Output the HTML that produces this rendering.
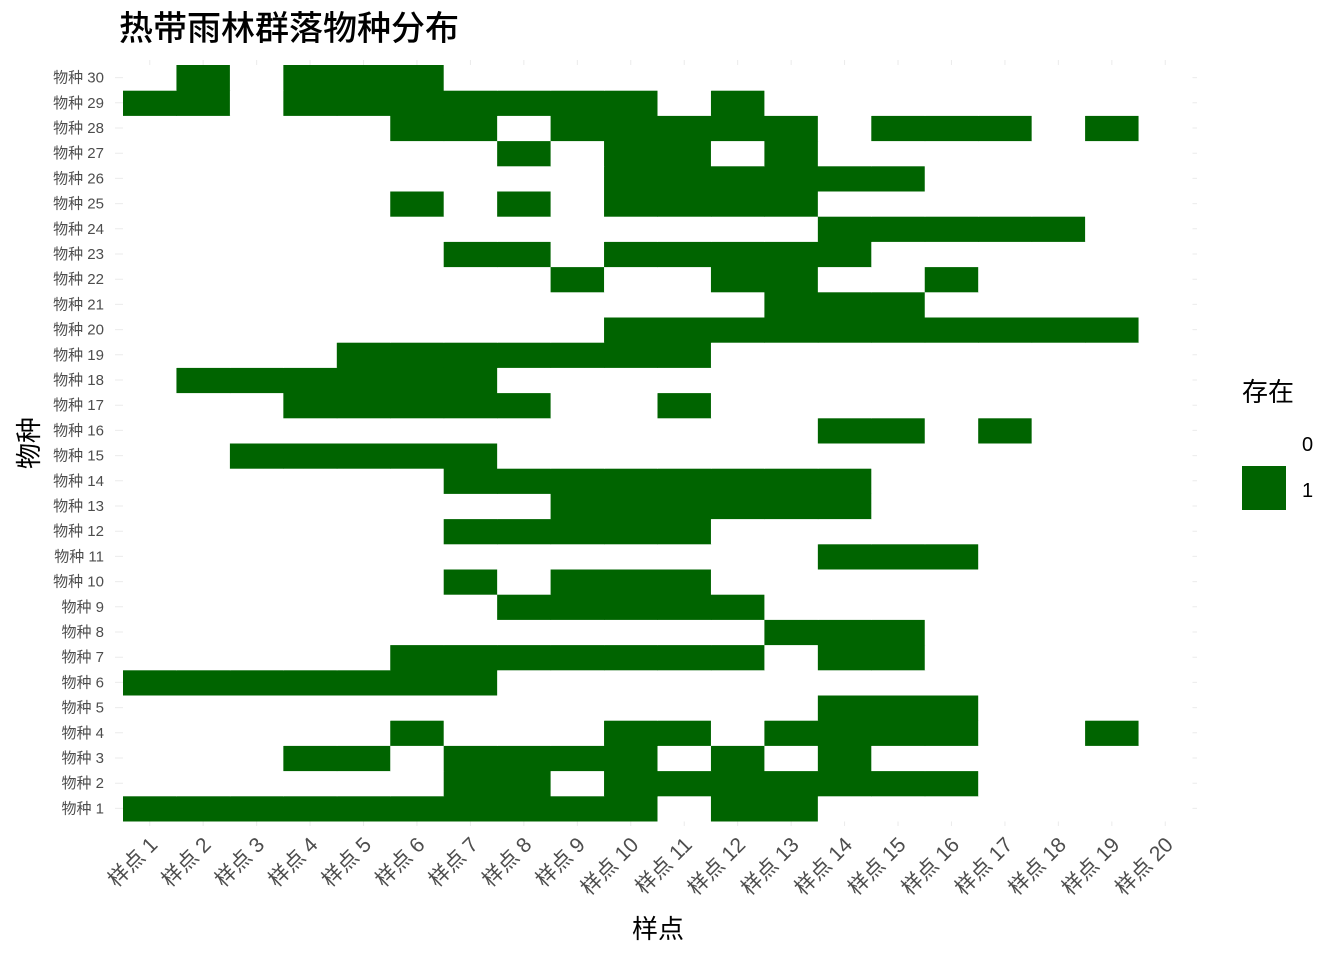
<!DOCTYPE html>
<html><head><meta charset="utf-8">
<style>
html,body{margin:0;padding:0;background:#fff;}
svg{display:block;font-family:"Liberation Sans","Noto Sans CJK SC",sans-serif;}
</style></head>
<body>
<svg id="chart" width="1344" height="960">
<text x="119" y="40" font-size="34" font-weight="500" fill="#000">热带雨林群落物种分布</text>
<g id="grid"></g>
<g id="tiles"></g>
<g id="ylabels"></g>
<g id="xlabels"></g>
<text x="658" y="938" font-size="26" text-anchor="middle" fill="#000">样点</text>
<text transform="translate(38,443) rotate(-90)" font-size="26" text-anchor="middle" fill="#000">物种</text>
<g>
<text x="1242" y="401" font-size="26" fill="#000">存在</text>
<rect x="1242" y="421" width="44" height="44" fill="#fff"/>
<text x="1302" y="451" font-size="20" fill="#000">0</text>
<rect x="1242" y="466" width="44" height="44" fill="#006400"/>
<text x="1302" y="497" font-size="20" fill="#000">1</text>
</g>
</svg>
<script>
const sites = Array.from({length:20},(_,i)=>'样点 '+(i+1));
const species = Array.from({length:30},(_,i)=>'物种 '+(i+1));
const sp1=[1,2,3,4,5,6,7,8,9,10,12,13];
const sp2=[7,8,10,11,12,13,14,15,16];
const sp3=[4,5,7,8,9,10,12,14];
const sp4=[6,10,11,13,14,15,16,19];
const sp5=[14,15,16];
const sp6=[1,2,3,4,5,6,7];
const sp7=[6,7,8,9,10,11,12,14,15];
const sp8=[13,14,15];
const sp9=[8,9,10,11,12];
const sp10=[7,9,10,11];
const sp11=[14,15,16];
const sp12=[7,8,9,10,11];
const sp13=[9,10,11,12,13,14];
const sp14=[7,8,9,10,11,12,13,14];
const sp15=[3,4,5,6,7];
const sp16=[14,15,17];
const sp17=[4,5,6,7,8,11];
const sp18=[2,3,4,5,6,7];
const sp19=[5,6,7,8,9,10,11];
const sp20=[10,11,12,13,14,15,16,17,18,19];
const sp21=[13,14,15];
const sp22=[9,12,13,16];
const sp23=[7,8,10,11,12,13,14];
const sp24=[14,15,16,17,18];
const sp25=[6,8,10,11,12,13];
const sp26=[10,11,12,13,14,15];
const sp27=[8,10,11,13];
const sp28=[6,7,9,10,11,12,13,15,16,17,19];
const sp29=[1,2,4,5,6,7,8,9,10,12];
const sp30=[2,4,5,6];
const presence=[sp1,sp2,sp3,sp4,sp5,sp6,sp7,sp8,sp9,sp10,sp11,sp12,sp13,sp14,sp15,sp16,sp17,sp18,sp19,sp20,sp21,sp22,sp23,sp24,sp25,sp26,sp27,sp28,sp29,sp30];

const NS='http://www.w3.org/2000/svg';
const x0=123, cw=(1192-123)/20, rh=(821-65)/30;
const xC=i=>x0+cw*(i+0.5);
const yC=j=>821-rh*(j+0.5);
function mk(t,a){const e=document.createElementNS(NS,t);for(const k in a)e.setAttribute(k,a[k]);return e;}
const grid=document.getElementById('grid'),tiles=document.getElementById('tiles'),yl=document.getElementById('ylabels'),xl=document.getElementById('xlabels');
for(let i=0;i<20;i++){const l=mk('line',{x1:xC(i),x2:xC(i),y1:60,y2:826,stroke:'#ebebeb','stroke-width':1});

grid.appendChild(l);}
for(let j=0;j<30;j++){const l=mk('line',{x1:115,x2:1197,y1:yC(j),y2:yC(j),stroke:'#ebebeb','stroke-width':1});

grid.appendChild(l);}
for(let j=0;j<30;j++){for(let i=0;i<20;i++){
 const on=presence[j].includes(i+1);
 const r=mk('rect',{x:x0+cw*i,y:821-rh*(j+1),width:cw+0.5,height:rh+0.5,fill:on?'#006400':'#ffffff'});
 
 
 tiles.appendChild(r);}}
species.forEach((s,j)=>{const t=mk('text',{x:104,y:yC(j)+5,'font-size':15,'text-anchor':'end',fill:'#4d4d4d'});t.textContent=s;
 
 yl.appendChild(t);});
sites.forEach((s,i)=>{const ax=xC(i)+9, ay=846;const t=mk('text',{x:ax,y:ay,'font-size':21,'text-anchor':'end',fill:'#4d4d4d',transform:`rotate(-45 ${ax} ${ay})`});t.textContent=s;
 
 xl.appendChild(t);});
</script>
</body></html>
